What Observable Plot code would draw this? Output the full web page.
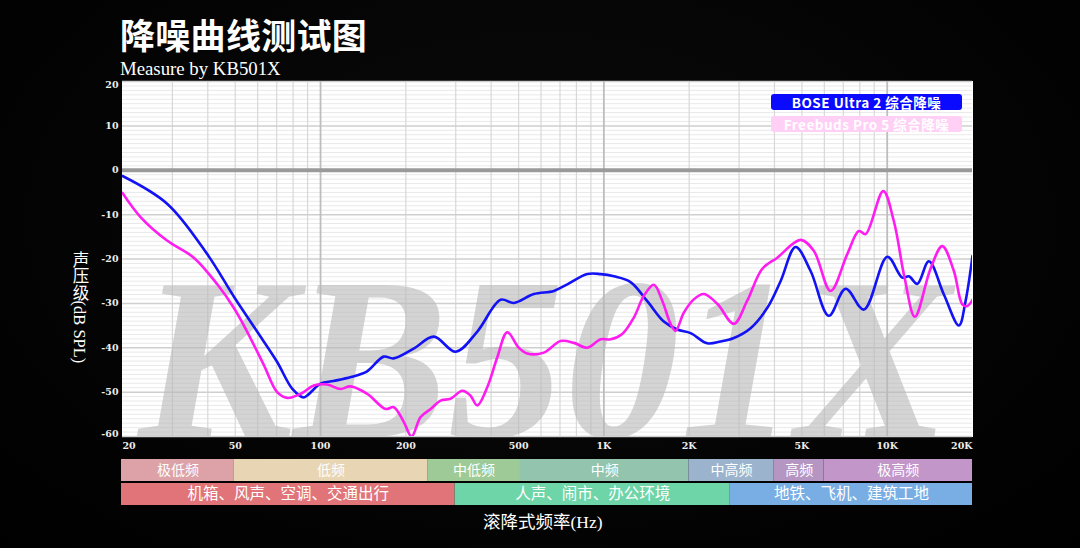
<!DOCTYPE html>
<html>
<head>
<meta charset="utf-8">
<script src="https://cdn.jsdelivr.net/npm/d3@7"></script>
<script src="https://cdn.jsdelivr.net/npm/@observablehq/plot@0.6"></script>
<style>
  html, body { margin: 0; padding: 0; background: #000; }
  #wrap { position: relative; width: 1080px; height: 548px; overflow: hidden;
    background: radial-gradient(ellipse at 50% 40%, #0b0b0b 0%, #030303 70%, #000 100%); }
  .abs { position: absolute; color: #fff; white-space: nowrap; }
  #title { left: 120px; top: 16px; font: 700 35px/35px "Noto Sans CJK SC", sans-serif; letter-spacing: 0.3px; }
  #subtitle { left: 120px; top: 59px; font: 400 18.8px/19px "Liberation Serif", serif; }
  #ytitle { left: 69px; top: 251px; font: 400 16.5px/20px "Liberation Serif", "Noto Sans CJK SC", serif;
    writing-mode: vertical-rl; text-orientation: mixed; }
  #xtitle { left: 483px; top: 512px; font: 400 17.5px/20px "Liberation Serif", "Noto Sans CJK SC", serif; }
  .leg { position: absolute; left: 771px; width: 191px; height: 16px; border-radius: 3px;
    color: #fff; text-align: center; font: 700 13.5px/16px "Noto Sans CJK SC", sans-serif; letter-spacing: 0.5px; }
  #main, #bands { position: absolute; left: 0; }
  #main { top: 0; }
  #bands { top: 456px; }
  g[aria-label="xtick"] text, g[aria-label="ytick"] text { letter-spacing: 1.3px; }
</style>
</head>
<body>
<div id="wrap">
  <div class="abs" id="title">降噪曲线测试图</div>
  <div class="abs" id="subtitle">Measure by KB501X</div>
  <div id="main"></div>
  <div id="bands"></div>
  <div class="abs" id="ytitle">声压级(dB SPL)</div>
  <div class="abs" id="xtitle">滚降式频率(Hz)</div>
  <div class="leg" id="leg1" style="top:94px;background:#0a0aff;">BOSE Ultra 2 综合降噪</div>
  <div class="leg" id="leg2" style="top:115.5px;background:#ffcff6;">Freebuds Pro 5 综合降噪</div>
</div>
<script>
// ---- data ----
const seriesNames = ["BOSE Ultra 2 综合降噪", "Freebuds Pro 5 综合降噪"];

const boseFreq = [20,28.8,39.8,49.8,59.8,70.3,79.4,87.3,90.7,100,111,128,146,167,181,213,251,300,357,432,481,566,666,743,874,974,1085,1242,1423,1628,1816,2024,2317,2581,2876,3294,3774,4204,4750,5366,6224,7130,8275,10008,11310,11930,12770,14030,15850,17910,18900,20000];
const boseDb = [-1.3,-7.6,-18.9,-28.8,-36.4,-43.2,-49.2,-51.2,-50.5,-48.1,-47.5,-46.6,-45.3,-42,-42.4,-40.2,-37.5,-40.9,-36.4,-29.2,-29.9,-27.9,-27.2,-25.7,-23.4,-23.4,-23.9,-25.2,-29.5,-34.1,-35.9,-36.7,-39,-38.6,-37.8,-35.6,-31,-25,-17.3,-22.7,-32.8,-26.7,-31.4,-19.5,-24.2,-23.9,-25.6,-20.5,-28,-35,-29.5,-19.3];

const fbFreq = [20,23.2,28.8,35.7,43.2,49.4,55.1,63.1,70.3,76.3,85,94.7,105.6,117.7,127.6,146.2,169.6,181.4,197,209.5,225.5,244.7,265.3,287.6,316.3,338.4,357.3,387.6,420.3,456,501,536.5,614,703,784,874,974,1056,1161,1276,1384,1501,1607,1719,1791,1915,2077,2253,2514,2876,3206,3623,4093,4946,5512,6310,7228,7943,8390,9683,10556,11520,12520,14220,15640,17190,18410,19180,20000];
const fbDb = [-5.1,-10.6,-15.9,-19.7,-25.7,-31,-36.4,-43.9,-50,-51.3,-50.4,-48.5,-48.3,-49.3,-48.7,-50.4,-53.8,-53.4,-56.8,-60,-55.6,-53.8,-51.9,-51.5,-49.7,-50.8,-53,-48.9,-42.2,-36.5,-40,-41.3,-41.1,-38.5,-38.9,-40,-38.1,-38.1,-36.9,-33.2,-28.3,-25.8,-29.4,-34.6,-36.2,-32.1,-29.1,-27.9,-30.1,-34.6,-29.4,-22.2,-19.7,-15.7,-18.2,-27.2,-18.9,-13.7,-14.4,-4.7,-11.5,-24.3,-33,-22.2,-17.1,-22.7,-30.2,-30.6,-29.2];

const xTicks = [20,50,100,200,500,1000,2000,5000,10000,20000];
const xTickLabels = ["20","50","100","200","500","1K","2K","5K","10K","20K"];
const yTicks = [20,10,0,-10,-20,-30,-40,-50,-60];

const band1Names = ["极低频","低频","中低频","中频","中高频","高频","极高频"];
const band1Edges = [20,50,240,510,2000,4000,6000,20000];
const band2Names = ["机箱、风声、空调、交通出行","人声、闹市、办公环境","地铁、飞机、建筑工地"];
const band2Edges = [20,300,2800,20000];

// ---- styles ----
const band1Colors = ["#dca2a8","#e8d5b4","#9dca97","#93c4ad","#9bb3cc","#b596c2","#c396c9"];
const band2Colors = ["#e07479","#6dd5a7","#79aee5"];
const lineColors = ["#1212f5","#ff1cf0"];

// ---- derived tables ----
const bose = boseFreq.map((f, i) => ({f, db: boseDb[i]}));
const fb = fbFreq.map((f, i) => ({f, db: fbDb[i]}));

const xMajor = [100, 1000, 10000];
const xMinor = [];
for (const dec of [10, 100, 1000, 10000]) for (let k = 2; k <= 9; k++) {
  const v = k * dec; if (v > 20 && v < 20000) xMinor.push(v);
}
const yMinor = d3.range(-60, 21, 1).filter(v => v % 10 !== 0);
const yMajor = d3.range(-60, 21, 10).filter(v => v !== 0);

const xt = xTicks.map((v, i) => ({v, label: xTickLabels[i], i}));
const xtFirst = xt.filter(d => d.i === 0);
const xtLast = xt.filter(d => d.i === xt.length - 1);
const xtMid = xt.filter(d => d.i > 0 && d.i < xt.length - 1);

const tickFont = {fontFamily: "DejaVu Serif", fontWeight: "bold", fontSize: 9.5, fill: "#eeeeee"};

const main = Plot.plot({
  width: 1080, height: 460,
  marginTop: 81, marginBottom: 24, marginLeft: 122, marginRight: 108,
  style: {background: "transparent", overflow: "visible", color: "#fff"},
  x: {type: "log", domain: [20, 20000], axis: null},
  y: {domain: [-60, 20], axis: null},
  marks: [
    Plot.frame({fill: "#ffffff", stroke: "#ffffff"}),
    Plot.ruleY(yMinor, {stroke: "#e9e9e9", strokeWidth: 1}),
    Plot.ruleX(xMinor, {stroke: "#d8d8d8", strokeWidth: 1.2}),
    Plot.ruleY(yMajor, {stroke: "#cfcfcf", strokeWidth: 1.5}),
    Plot.ruleX(xMajor, {stroke: "#bdbdbd", strokeWidth: 1.8}),
    Plot.text(["KB501X"], {frameAnchor: "bottom", lineAnchor: "bottom", fontSize: 232, dx: -3,
      fontFamily: "Liberation Serif", fontStyle: "italic", fontWeight: "bold",
      fill: "#b8b8b8", fillOpacity: 0.6, clip: true}),
    Plot.ruleY([0], {stroke: "#9a9a9a", strokeWidth: 4}),
    Plot.line(bose, {x: "f", y: "db", stroke: lineColors[0], strokeWidth: 2.6, curve: "catmull-rom", clip: true}),
    Plot.line(fb, {x: "f", y: "db", stroke: lineColors[1], strokeWidth: 2.6, curve: "catmull-rom", clip: true}),
    // x tick labels
    Plot.text(xtFirst, {x: "v", text: "label", frameAnchor: "bottom", dy: 12, textAnchor: "start", ariaLabel: "xtick", ...tickFont}),
    Plot.text(xtMid, {x: "v", text: "label", frameAnchor: "bottom", dy: 12, ariaLabel: "xtick", ...tickFont}),
    Plot.text(xtLast, {x: "v", text: "label", frameAnchor: "bottom", dy: 12, textAnchor: "end", ariaLabel: "xtick", ...tickFont}),
    // y tick labels
    Plot.text(yTicks.filter(v => v === 20), {y: d => d, text: d => String(d), frameAnchor: "left", dx: -4, textAnchor: "end", lineAnchor: "top", ariaLabel: "ytick", ...tickFont}),
    Plot.text(yTicks.filter(v => v < 20 && v > -60), {y: d => d, text: d => String(d), frameAnchor: "left", dx: -4, textAnchor: "end", ariaLabel: "ytick", ...tickFont}),
    Plot.text(yTicks.filter(v => v === -60), {y: d => d, text: d => String(d), frameAnchor: "left", dx: -4, textAnchor: "end", lineAnchor: "bottom", ariaLabel: "ytick", ...tickFont})
  ]
});
document.getElementById("main").append(main);

// ---- frequency band rows ----
const bandRows = [
  ...band1Names.map((name, i) => ({row: "r1", name, x1: band1Edges[i], x2: band1Edges[i + 1], color: band1Colors[i]})),
  ...band2Names.map((name, i) => ({row: "r2", name, x1: band2Edges[i], x2: band2Edges[i + 1], color: band2Colors[i]}))
];

const bands = Plot.plot({
  width: 1080, height: 51,
  marginTop: 2, marginBottom: 2, marginLeft: 121, marginRight: 108,
  style: {background: "transparent", overflow: "visible"},
  x: {type: "log", domain: [20, 20000], axis: null},
  y: {domain: ["r1", "r2"], paddingInner: 0.09, paddingOuter: 0, axis: null},
  marks: [
    Plot.barX(bandRows, {x1: "x1", x2: "x2", y: "row", fill: d => d.color}),
    Plot.text(bandRows.filter(d => d.row === "r1"), {x: d => Math.sqrt(d.x1 * d.x2), y: "row", text: "name",
      fill: "#ffffff", fontSize: 14, fontFamily: "Noto Sans CJK SC"}),
    Plot.text(bandRows.filter(d => d.row === "r2"), {x: d => Math.sqrt(d.x1 * d.x2), y: "row", text: "name",
      fill: "#ffffff", fontSize: 15.5, fontFamily: "Noto Sans CJK SC"})
  ]
});
document.getElementById("bands").append(bands);
</script>
</body>
</html>
